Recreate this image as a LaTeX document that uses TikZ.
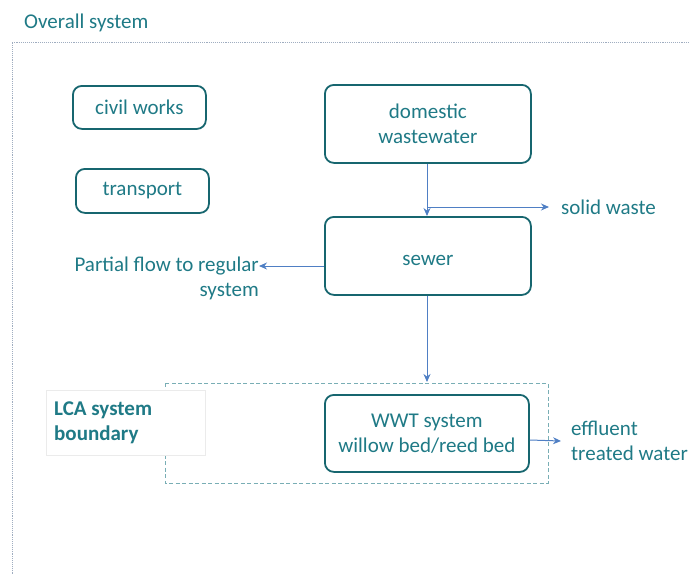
\documentclass[tikz,border=0pt]{standalone}
\usepackage{fontspec}
\setmainfont{Carlito}
\usepackage{xcolor}
\usetikzlibrary{arrows.meta,positioning,calc}
\definecolor{tealtxt}{HTML}{1F7A86}
\definecolor{tealbox}{HTML}{17666F}
\definecolor{flowblue}{HTML}{4F7FC4}
\definecolor{bndline}{HTML}{79AEB5}
\definecolor{outline}{HTML}{9FADC0}

\begin{document}
\begin{tikzpicture}[
  x=1pt, y=-1pt,
  every node/.style={text=tealtxt, font=\fontsize{21}{25}\selectfont},
  box/.style={
    rectangle, rounded corners=9pt, draw=tealbox, line width=1.8pt, fill=white,
    align=center, inner sep=0pt
  },
  label/.style={align=left, inner sep=0pt},
  arr/.style={-{Stealth[length=8pt,width=7pt]}, draw=flowblue, line width=1pt}
]
\useasboundingbox (0,0) rectangle (689,574);

% Overall system frame (only top and left visible)
\node[label, anchor=west] (overall) at (24,23) {Overall system};
\draw[outline, densely dotted, line width=0.9pt] (689,42) -- (12,42) -- (12,574);

% LCA boundary
\draw[bndline, dash pattern=on 4pt off 2.5pt, line width=0.9pt]
  (165,383) rectangle (548,483);
\node[draw=black!8, fill=white, minimum width=159pt, minimum height=65pt,
      anchor=north west, inner sep=0pt] (lcabox) at (46,390) {};
\node[label, font=\fontsize{21}{25}\selectfont\bfseries, anchor=west]
  (lca) at ([xshift=8pt]lcabox.west) {LCA system\\boundary};

% Side boxes
\node[box, minimum width=133pt, minimum height=43pt, anchor=north west]
  (civil) at (72,85) {civil works};
\node[box, minimum width=133pt, minimum height=44pt, anchor=north west]
  (transport) at (75,168) {transport};

% Main column
\node[box, minimum width=206pt, minimum height=78pt, anchor=north west]
  (domestic) at (324,84) {domestic\\wastewater};
\node[box, minimum width=206pt, minimum height=78pt, anchor=north west,
      text height=21pt, text depth=1pt]
  (sewer) at (324,216) {sewer};
\node[box, minimum width=204pt, minimum height=77pt, anchor=north west]
  (wwt) at (324,394) {WWT system\\willow bed/reed bed};

% Output labels
\node[label, anchor=west] (solid) at (561,207) {solid waste};
\node[label, align=right, anchor=north east] (partial) at (259,257)
  {Partial flow to regular\\system};
\node[label, anchor=west] (effluent) at (571,441) {effluent\\treated water};
\coordinate (bndtop) at (427,382);
\coordinate (split) at (427,207);

% Flows
\draw[arr] (domestic.south -| split) -- (sewer.north -| split);
\draw[arr] (split) -- ([xshift=-12pt]solid.west);
\draw[arr] (sewer.west |- 0,266) -- (partial.north east |- 0,266);
\draw[arr] (sewer.south -| bndtop) -- (bndtop);
\draw[arr] (wwt.east |- 0,440) -- ([xshift=-10pt]effluent.west);

\end{tikzpicture}
\end{document}
